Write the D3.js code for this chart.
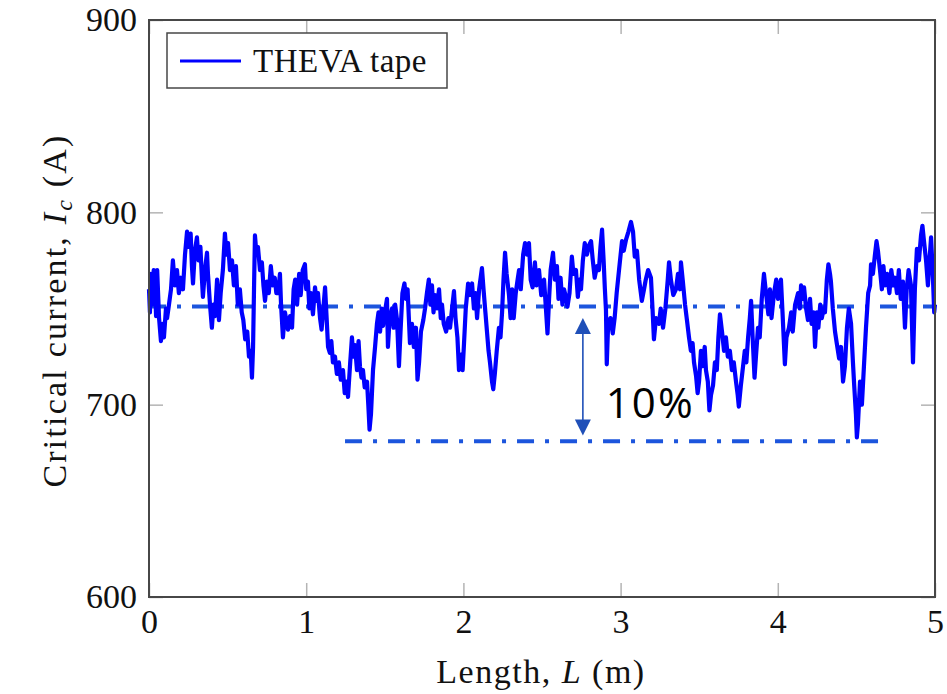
<!DOCTYPE html>
<html>
<head>
<meta charset="utf-8">
<script src="https://cdn.jsdelivr.net/npm/d3@7"></script>
<style>
  body { margin: 0; background: #fff; }
  svg { display: block; }
  text { font-family: "Liberation Serif", "Times New Roman", serif; fill: #111; }
</style>
</head>
<body>
<svg id="chart" width="947" height="694"></svg>
<script>
// measured critical current along the tape, [length (m), Ic (A)]
const tapeData = [
  [0.000,760],[0.006,748],[0.012,768],[0.019,752],[0.030,770],[0.038,762],[0.045,746],[0.052,770],[0.064,745],
  [0.076,733],[0.085,742],[0.095,735],[0.108,750],[0.115,745],[0.127,752],[0.140,760],[0.152,775],[0.165,762],
  [0.178,770],[0.190,758],[0.203,766],[0.216,760],[0.229,778],[0.242,790],[0.255,782],[0.265,789],[0.273,772],
  [0.280,763],[0.292,780],[0.305,787],[0.315,775],[0.327,782],[0.337,765],[0.343,756],[0.356,770],[0.369,779],
  [0.375,768],[0.388,752],[0.400,740],[0.410,752],[0.420,746],[0.433,765],[0.445,744],[0.456,758],[0.470,770],
  [0.483,789],[0.493,778],[0.503,784],[0.515,770],[0.528,775],[0.540,762],[0.553,772],[0.565,752],[0.578,760],
  [0.590,748],[0.600,744],[0.612,734],[0.625,738],[0.636,725],[0.647,728],[0.655,714],[0.662,730],[0.668,760],
  [0.674,788],[0.684,778],[0.693,782],[0.706,770],[0.718,774],[0.728,762],[0.738,754],[0.750,764],[0.762,758],
  [0.775,772],[0.787,762],[0.800,766],[0.810,758],[0.821,758],[0.833,768],[0.840,752],[0.852,735],[0.865,748],
  [0.884,739],[0.897,746],[0.910,740],[0.920,760],[0.930,765],[0.942,752],[0.955,768],[0.965,757],[0.978,770],
  [0.992,773],[1.000,760],[1.011,764],[1.020,750],[1.030,758],[1.043,747],[1.056,761],[1.066,754],[1.075,758],
  [1.088,745],[1.098,739],[1.107,748],[1.120,761],[1.130,745],[1.139,730],[1.150,727],[1.160,733],[1.170,722],
  [1.183,725],[1.195,716],[1.208,722],[1.220,713],[1.234,718],[1.245,706],[1.255,712],[1.266,704],[1.280,722],
  [1.291,735],[1.300,725],[1.310,731],[1.323,718],[1.333,733],[1.342,720],[1.352,714],[1.361,718],[1.372,709],
  [1.387,712],[1.395,700],[1.403,687],[1.412,695],[1.425,718],[1.438,730],[1.450,742],[1.460,748],[1.470,738],
  [1.480,750],[1.489,741],[1.500,748],[1.514,755],[1.520,730],[1.530,744],[1.546,750],[1.556,740],[1.566,752],
  [1.578,744],[1.590,720],[1.600,738],[1.612,758],[1.625,763],[1.635,755],[1.645,760],[1.660,732],[1.673,742],
  [1.685,730],[1.698,740],[1.708,713],[1.718,722],[1.730,738],[1.745,744],[1.756,750],[1.768,758],[1.780,765],
  [1.790,752],[1.800,762],[1.810,748],[1.819,757],[1.832,750],[1.845,760],[1.856,745],[1.864,752],[1.875,742],
  [1.890,738],[1.905,745],[1.915,740],[1.928,750],[1.940,759],[1.950,745],[1.962,735],[1.972,718],[1.985,726],
  [1.995,718],[2.004,732],[2.015,750],[2.030,763],[2.042,757],[2.055,763],[2.067,750],[2.077,758],[2.087,745],
  [2.100,760],[2.118,771],[2.128,760],[2.140,748],[2.150,738],[2.160,728],[2.169,722],[2.182,712],[2.190,708],
  [2.200,716],[2.212,728],[2.226,740],[2.236,735],[2.246,748],[2.255,765],[2.265,779],[2.275,768],[2.290,757],
  [2.300,745],[2.310,760],[2.320,745],[2.333,758],[2.345,765],[2.354,770],[2.365,760],[2.380,778],[2.392,784],
  [2.405,778],[2.417,784],[2.428,765],[2.440,761],[2.455,774],[2.465,762],[2.481,770],[2.495,757],[2.513,765],
  [2.525,750],[2.535,737],[2.545,755],[2.555,770],[2.570,779],[2.582,765],[2.595,772],[2.605,755],[2.618,766],
  [2.630,752],[2.640,760],[2.652,756],[2.662,751],[2.675,758],[2.690,777],[2.700,768],[2.716,770],[2.728,756],
  [2.738,765],[2.748,760],[2.760,775],[2.772,784],[2.786,778],[2.800,783],[2.812,785],[2.822,776],[2.835,766],
  [2.850,772],[2.862,770],[2.872,782],[2.882,791],[2.892,775],[2.900,760],[2.907,749],[2.912,721],[2.920,740],
  [2.935,745],[2.950,737],[2.962,745],[2.975,758],[2.990,770],[3.009,785],[3.020,780],[3.035,786],[3.050,790],
  [3.066,795],[3.079,790],[3.090,777],[3.104,780],[3.118,765],[3.135,754],[3.149,760],[3.160,765],[3.175,770],
  [3.193,766],[3.203,750],[3.212,734],[3.225,745],[3.244,742],[3.255,750],[3.270,740],[3.285,750],[3.300,765],
  [3.308,774],[3.320,765],[3.335,757],[3.352,760],[3.365,768],[3.378,760],[3.384,774],[3.395,765],[3.410,752],
  [3.422,744],[3.435,735],[3.447,728],[3.458,732],[3.467,722],[3.480,715],[3.490,706],[3.499,712],[3.511,728],
  [3.522,720],[3.535,730],[3.543,718],[3.555,712],[3.565,697],[3.575,705],[3.588,710],[3.600,722],[3.612,718],
  [3.622,735],[3.632,747],[3.645,738],[3.658,728],[3.670,735],[3.682,725],[3.695,728],[3.708,718],[3.720,722],
  [3.734,712],[3.745,705],[3.752,699],[3.765,710],[3.779,720],[3.790,728],[3.800,722],[3.811,735],[3.822,745],
  [3.830,754],[3.840,735],[3.852,714],[3.861,725],[3.874,740],[3.885,735],[3.898,755],[3.912,768],[3.925,758],
  [3.940,747],[3.950,760],[3.960,745],[3.976,758],[3.990,765],[4.001,755],[4.012,762],[4.020,765],[4.030,748],
  [4.045,721],[4.055,735],[4.071,740],[4.085,748],[4.095,738],[4.110,752],[4.129,758],[4.140,750],[4.148,762],
  [4.160,755],[4.167,761],[4.180,750],[4.192,744],[4.205,755],[4.215,742],[4.228,748],[4.237,730],[4.248,748],
  [4.258,740],[4.270,752],[4.280,745],[4.292,750],[4.300,748],[4.312,765],[4.322,773],[4.332,768],[4.338,764],
  [4.350,750],[4.364,738],[4.375,732],[4.390,724],[4.402,730],[4.415,712],[4.427,720],[4.440,740],[4.452,750],
  [4.466,742],[4.478,722],[4.486,710],[4.497,695],[4.503,683],[4.510,690],[4.523,712],[4.535,700],[4.548,720],
  [4.561,740],[4.575,758],[4.587,762],[4.593,773],[4.605,768],[4.618,778],[4.628,785],[4.637,780],[4.650,770],
  [4.662,760],[4.672,772],[4.682,762],[4.695,768],[4.710,758],[4.722,770],[4.735,762],[4.746,766],[4.758,758],
  [4.770,770],[4.782,755],[4.796,764],[4.809,740],[4.820,760],[4.832,770],[4.847,762],[4.860,722],[4.872,760],
  [4.885,781],[4.898,775],[4.911,788],[4.920,793],[4.930,785],[4.943,775],[4.955,762],[4.965,775],[4.975,787],
  [4.985,770],[4.995,748],[5.000,752]
];

const xTicks = [0, 1, 2, 3, 4, 5];
const yTicks = [600, 700, 800, 900];

// reference levels (A) and their length spans (m)
const refLevels = [751, 681];
const refSpans = [[0, 5], [1.247, 4.663]];

// the 10% arrow
const arrowL = 2.76;
const arrowRange = [745, 684];
const arrowLabel = "10%";

const legendLabel = "THEVA tape";

const svg = d3.select("#chart"),
  plotLeft = 149, plotRight = 935, plotTop = 20, plotBottom = 597;

const x = d3.scaleLinear().domain([0, 5]).range([plotLeft, plotRight]);
const y = d3.scaleLinear().domain([600, 900]).range([plotBottom, plotTop]);

const tickColor = "#b4b4b4", frameColor = "#474747";

function styleAxis(g) {
  g.select(".domain").remove();
  g.selectAll(".tick line").attr("stroke", tickColor).attr("stroke-width", 1.5);
  g.selectAll(".tick text")
    .attr("font-family", "'Liberation Serif', serif")
    .attr("font-size", 34)
    .attr("fill", "#111");
}

svg.append("g").attr("transform", `translate(0,${plotBottom})`)
  .call(d3.axisBottom(x).tickValues(xTicks).tickSize(-14).tickPadding(12).tickFormat(d3.format("d")))
  .call(styleAxis);
svg.append("g").attr("transform", `translate(0,${plotTop})`)
  .call(d3.axisTop(x).tickValues(xTicks).tickSize(-14).tickFormat(""))
  .call(styleAxis);
svg.append("g").attr("transform", `translate(${plotLeft},0)`)
  .call(d3.axisLeft(y).tickValues(yTicks).tickSize(-14).tickPadding(12).tickFormat(d3.format("d")))
  .call(styleAxis);
svg.append("g").attr("transform", `translate(${plotRight},0)`)
  .call(d3.axisRight(y).tickValues(yTicks).tickSize(-14).tickFormat(""))
  .call(styleAxis);

// dash-dot reference lines
const dashColor = "#1c55dd";
refLevels.forEach((lvl, i) => {
  svg.append("line")
    .attr("x1", x(refSpans[i][0])).attr("x2", x(refSpans[i][1]))
    .attr("y1", y(lvl)).attr("y2", y(lvl))
    .attr("stroke", dashColor)
    .attr("stroke-width", 4)
    .attr("stroke-dasharray", "17,11,4,11");
});

// measured trace
const line = d3.line().x(d => x(d[0])).y(d => y(d[1]));
svg.append("path")
  .datum(tapeData)
  .attr("d", line)
  .attr("fill", "none")
  .attr("stroke", "#0000ff")
  .attr("stroke-width", 4.2)
  .attr("stroke-linejoin", "round");

// double arrow
const arrowColor = "#1f4fb8";
const ax = x(arrowL), ay1 = y(arrowRange[0]), ay2 = y(arrowRange[1]);
svg.append("line")
  .attr("x1", ax).attr("x2", ax).attr("y1", ay1 + 12).attr("y2", ay2 - 12)
  .attr("stroke", arrowColor).attr("stroke-width", 1.6);
svg.append("path")
  .attr("d", `M${ax},${ay1} L${ax - 8},${ay1 + 16} L${ax + 8},${ay1 + 16} Z`)
  .attr("fill", arrowColor);
svg.append("path")
  .attr("d", `M${ax},${ay2} L${ax - 8},${ay2 - 16} L${ax + 8},${ay2 - 16} Z`)
  .attr("fill", arrowColor);
svg.append("text")
  .attr("x", ax + 23).attr("y", 418)
  .attr("font-size", 42)
  .attr("letter-spacing", 2)
  .style("font-family", "'Open Sans', 'Noto Sans', sans-serif")
  .style("fill", "#000")
  .text(arrowLabel);

// frame
svg.append("rect")
  .attr("x", plotLeft).attr("y", plotTop)
  .attr("width", plotRight - plotLeft).attr("height", plotBottom - plotTop)
  .attr("fill", "none").attr("stroke", frameColor).attr("stroke-width", 2);

// legend
const legend = svg.append("g");
legend.append("rect")
  .attr("x", 167).attr("y", 33).attr("width", 280).attr("height", 55)
  .attr("fill", "#fff").attr("stroke", frameColor).attr("stroke-width", 1.5);
legend.append("line")
  .attr("x1", 180).attr("x2", 241).attr("y1", 61).attr("y2", 61)
  .attr("stroke", "#0000ff").attr("stroke-width", 3);
legend.append("text")
  .attr("x", 253).attr("y", 72)
  .attr("font-size", 33).attr("letter-spacing", 0.5)
  .text(legendLabel);

// axis titles
const xTitle = svg.append("text")
  .attr("x", (plotLeft + plotRight) / 2 - 1).attr("y", 683)
  .attr("text-anchor", "middle")
  .attr("font-size", 34).attr("letter-spacing", 1.5);
xTitle.append("tspan").text("Length, ");
xTitle.append("tspan").attr("font-style", "italic").text("L");
xTitle.append("tspan").text(" (m)");

const yTitle = svg.append("text")
  .attr("transform", `translate(66,${(plotTop + plotBottom) / 2 + 2}) rotate(-90)`)
  .attr("text-anchor", "middle")
  .attr("font-size", 34).attr("letter-spacing", 2.2);
yTitle.append("tspan").text("Critical current, ");
yTitle.append("tspan").attr("font-style", "italic").text("I");
yTitle.append("tspan").attr("font-style", "italic").attr("font-size", 24).attr("dy", 6).text("c");
yTitle.append("tspan").attr("dy", -6).text(" (A)");
</script>
</body>
</html>
